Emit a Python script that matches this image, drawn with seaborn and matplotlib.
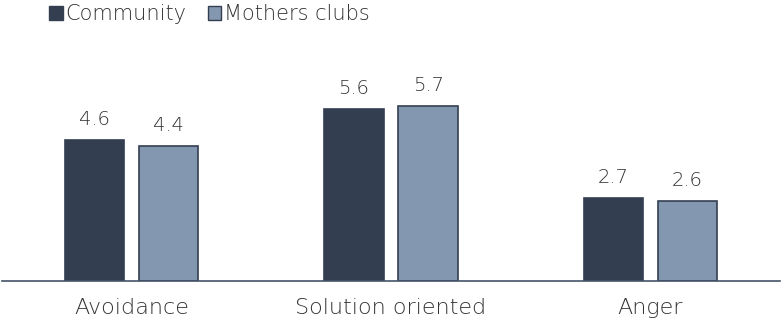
import matplotlib
matplotlib.use("Agg")
import matplotlib.pyplot as plt
from matplotlib.patches import Patch
import seaborn as sns
import pandas as pd

categories = ["Avoidance", "Solution oriented", "Anger"]
series_names = ["Community", "Mothers clubs"]
community = [4.6, 5.6, 2.7]
mothers_clubs = [4.4, 5.7, 2.6]

dark = "#333F50"
light = "#8497B0"
text_color = "#333333"

sns.set_theme(style="white")
plt.rcParams["font.family"] = ["DejaVu Sans"]
plt.rcParams["font.weight"] = "light"

df = pd.DataFrame({
    "category": categories * 2,
    "series": [series_names[0]] * 3 + [series_names[1]] * 3,
    "value": community + mothers_clubs,
})

fig = plt.figure(figsize=(7.81, 3.21), dpi=100)
ax = fig.add_axes([2 / 781, 40 / 321, 778 / 781, 276 / 321])

sns.barplot(data=df, x="category", y="value", hue="series", order=categories,
            hue_order=series_names, palette=[dark, light], saturation=1,
            width=0.571, gap=0.2, edgecolor=dark, linewidth=1.2, legend=False, ax=ax)

for container in ax.containers:
    ax.bar_label(container, fmt="%.1f", padding=8, fontsize=14, color=text_color,
                 fontweight="light")

ax.set_xlim(-0.5, 2.5)
ax.set_ylim(0, 9.0)
ax.set_xlabel("")
ax.set_ylabel("")
ax.set_yticks([])
ax.tick_params(axis="x", length=0, pad=12, labelsize=16, labelcolor=text_color)
for lbl in ax.get_xticklabels():
    lbl.set_fontweight("light")
for side in ["top", "right", "left"]:
    ax.spines[side].set_visible(False)
ax.spines["bottom"].set_color("#44546A")
ax.spines["bottom"].set_linewidth(1.2)

handles = [Patch(facecolor=dark, edgecolor=dark, label=series_names[0]),
           Patch(facecolor=light, edgecolor=dark, label=series_names[1])]
fig.legend(handles=handles, loc="upper left", bbox_to_anchor=(49 / 781, 1 - 4 / 321), ncol=2,
           frameon=False, handlelength=0.65, handleheight=0.65,
           handletextpad=0.15, columnspacing=1.0, borderpad=0, borderaxespad=0,
           labelcolor=text_color, prop={"weight": "light", "size": 15})

fig.savefig("out.png", dpi=100)
